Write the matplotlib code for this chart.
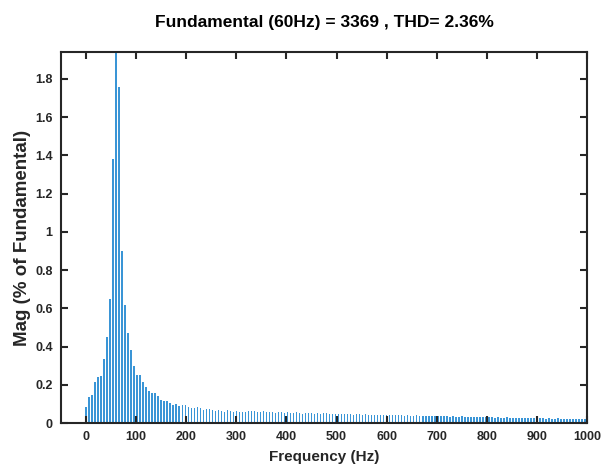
import numpy as np
import matplotlib
matplotlib.use('Agg')
import matplotlib.pyplot as plt

# FFT bins every 6 Hz (10-cycle window at 60 Hz)
freq = np.arange(0, 1000, 6)

mag = [
    # 0 - 294 Hz
    0.085, 0.137, 0.146, 0.215, 0.24, 0.245, 0.337, 0.45, 0.65, 1.38,
    100.0, 1.76, 0.90, 0.62, 0.47, 0.385, 0.30, 0.254, 0.254, 0.215,
    0.19, 0.167, 0.158, 0.155, 0.14, 0.12, 0.117, 0.115, 0.105, 0.097,
    0.098, 0.088, 0.097, 0.097, 0.083, 0.078, 0.08, 0.083, 0.078, 0.07,
    0.072, 0.073, 0.07, 0.065, 0.07, 0.065, 0.06, 0.07, 0.065, 0.06,
    # 300 - 396
    0.062, 0.058, 0.06, 0.057, 0.062, 0.066, 0.064, 0.058, 0.06, 0.063,
    0.056, 0.058, 0.06, 0.055, 0.057, 0.059, 0.054,
    # 402 - 498
    0.058, 0.055, 0.052, 0.056, 0.054, 0.05, 0.053, 0.055, 0.051, 0.05,
    0.053, 0.049, 0.051, 0.052, 0.048, 0.05, 0.047,
    # 504 - 600
    0.05, 0.048, 0.046, 0.049, 0.047, 0.045, 0.048, 0.046, 0.044, 0.046,
    0.045, 0.043, 0.045, 0.044, 0.042, 0.044, 0.043,
    # 606 - 702
    0.041, 0.043, 0.04, 0.042, 0.04, 0.039, 0.041, 0.039, 0.038, 0.04,
    0.038, 0.037, 0.039, 0.037, 0.036, 0.038, 0.036,
    # 708 - 804
    0.035, 0.037, 0.035, 0.034, 0.036, 0.034, 0.033, 0.035, 0.033, 0.032,
    0.034, 0.032, 0.031, 0.033, 0.031, 0.03, 0.032,
    # 810 - 906
    0.03, 0.029, 0.031, 0.029, 0.028, 0.03, 0.028, 0.027, 0.029, 0.027,
    0.027, 0.028, 0.026, 0.026, 0.027, 0.025, 0.026,
    # 912 - 996
    0.025, 0.024, 0.026, 0.024, 0.024, 0.025, 0.023, 0.023, 0.024, 0.022,
    0.023, 0.022, 0.022, 0.023, 0.021,
]

title = 'Fundamental (60Hz) = 3369 , THD= 2.36%'
xticks = np.arange(0, 1001, 100)
yticks = [0, 0.2, 0.4, 0.6, 0.8, 1.0, 1.2, 1.4, 1.6, 1.8]
ytick_labels = ['0', '0.2', '0.4', '0.6', '0.8', '1', '1.2', '1.4', '1.6', '1.8']

plt.rcParams['font.family'] = ['Liberation Sans', 'DejaVu Sans']
plt.rcParams['font.weight'] = 'bold'

fig = plt.figure(figsize=(6.04, 4.66), dpi=100)
ax = fig.add_axes([0.101, 0.092, 0.871, 0.796])

ax.bar(freq, mag, width=3.0, color='#3a95d6', linewidth=0)

ax.set_xlim(-50, 1000)
ax.set_ylim(0, 1.94)
ax.set_xticks(xticks)
ax.set_yticks(yticks)
ax.set_yticklabels(ytick_labels)

ax.tick_params(direction='in', length=5, width=1.5, top=True, right=True,
               labelsize=9, colors='#262626', pad=6)
for lab in ax.get_xticklabels() + ax.get_yticklabels():
    lab.set_fontweight('bold')
for s in ax.spines.values():
    s.set_linewidth(1.5)
    s.set_color('#262626')

ax.set_xlabel('Frequency (Hz)', fontsize=11, fontweight='bold', color='#262626', labelpad=5)
ax.set_ylabel('Mag (% of Fundamental)', fontsize=13.5, fontweight='bold', color='#262626', labelpad=3)
ax.set_title(title, fontsize=12.5, fontweight='bold', color='#000000', pad=18)

fig.savefig('out.png', dpi=100)
